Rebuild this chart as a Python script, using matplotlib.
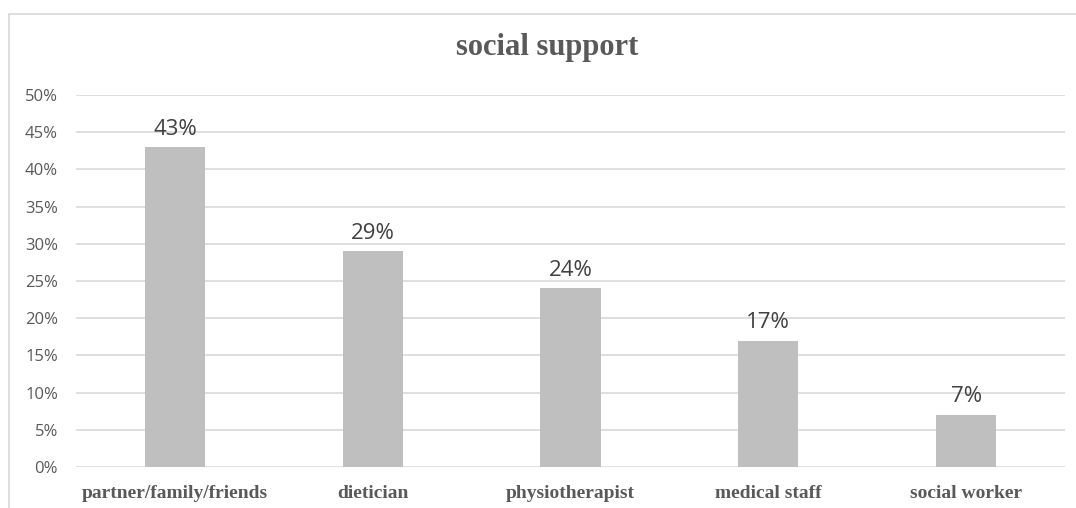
import matplotlib.pyplot as plt
from matplotlib.patches import Rectangle
from matplotlib.ticker import PercentFormatter

categories = ['partner/family/friends', 'dietician', 'physiotherapist', 'medical staff', 'social worker']
values = [43, 29, 24, 17, 7]
yticks = [0, 5, 10, 15, 20, 25, 30, 35, 40, 45, 50]

W, H = 1076, 508
fig = plt.figure(figsize=(W / 100, H / 100), dpi=100)
ax = fig.add_axes([76 / W, 1 - 467 / H, (1065 - 76) / W, (467 - 95) / H])

# outer chart frame (cut off on right/bottom like the screenshot)
fig.patches.append(Rectangle((9 / W, -0.1), 1.2, 1 - 14 / H + 0.1, transform=fig.transFigure,
                             fill=False, edgecolor='#d9d9d9', linewidth=1.2))

x = range(len(categories))
bars = ax.bar(x, values, width=0.305, color='#bfbfbf', zorder=3)
for b, v in zip(bars, values):
    ax.text(b.get_x() + b.get_width() / 2, v + 1.0, f'{v}%', ha='center', va='bottom',
            fontsize=16, color='#404040', family='Open Sans')

ax.set_xlim(-0.5, len(categories) - 0.5)
ax.set_yticks(yticks)
ax.set_ylim(0, 50)
ax.yaxis.set_major_formatter(PercentFormatter(decimals=0))
ax.grid(axis='y', color='#d9d9d9', linewidth=1.2, zorder=0)
for s in ax.spines.values():
    s.set_visible(False)
ax.tick_params(length=0)
ax.tick_params(axis='y', pad=13, labelsize=12, labelcolor='#595959')
for t in ax.get_yticklabels():
    t.set_family('Open Sans')
ax.set_xticks(list(x))
ax.set_xticklabels(categories, family='Liberation Serif', fontweight='bold', fontsize=14, color='#595959')
ax.tick_params(axis='x', pad=13)

fig.text(547 / W, 1 - 48 / H, 'social support', ha='center', va='center', family='Liberation Serif',
         fontweight='bold', fontsize=22, color='#595959')

fig.savefig('out.png', dpi=100)
